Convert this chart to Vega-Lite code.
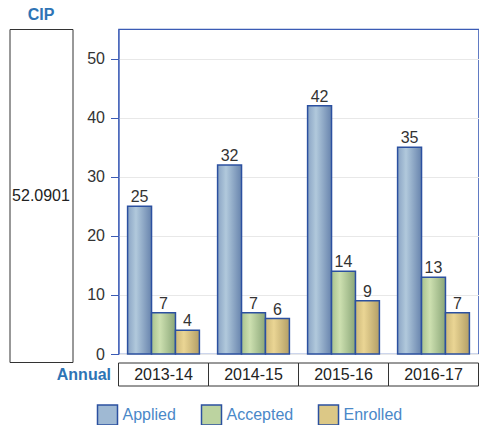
{
  "$schema": "https://vega.github.io/schema/vega-lite/v6.json",
  "padding": {"left": 8.5, "top": 6, "right": 0, "bottom": 0},
  "background": "white",
  "config": {"font": "Liberation Sans", "view": {"stroke": null}},
  "bounds": "flush",
  "spacing": 46,
  "hconcat": [
    {
      "width": 63,
      "height": 333,
      "title": {"text": "CIP", "font": "Liberation Sans", "fontSize": 16, "fontWeight": "bold", "color": "#2e74b5", "anchor": "middle", "offset": 6},
      "view": {"stroke": "#333333", "strokeWidth": 1},
      "data": {"values": [{"cip": "52.0901"}]},
      "mark": {"type": "text", "fontSize": 16, "color": "#222222"},
      "encoding": {
        "y": {"field": "cip", "type": "nominal", "axis": null},
        "text": {"field": "cip"}
      }
    },
    {
      "bounds": "flush",
      "spacing": 9,
      "vconcat": [
        {
          "width": 360,
          "height": 325,
          "view": {"stroke": "#3b5bb5", "strokeWidth": 1.2},
          "data": {"values": [
            {"year": "2013-14", "series": "Applied", "value": 25},
            {"year": "2013-14", "series": "Accepted", "value": 7},
            {"year": "2013-14", "series": "Enrolled", "value": 4},
            {"year": "2014-15", "series": "Applied", "value": 32},
            {"year": "2014-15", "series": "Accepted", "value": 7},
            {"year": "2014-15", "series": "Enrolled", "value": 6},
            {"year": "2015-16", "series": "Applied", "value": 42},
            {"year": "2015-16", "series": "Accepted", "value": 14},
            {"year": "2015-16", "series": "Enrolled", "value": 9},
            {"year": "2016-17", "series": "Applied", "value": 35},
            {"year": "2016-17", "series": "Accepted", "value": 13},
            {"year": "2016-17", "series": "Enrolled", "value": 7}
          ]},
          "encoding": {
            "x": {"field": "year", "type": "nominal", "axis": null, "scale": {"paddingInner": 0, "paddingOuter": 0}},
            "xOffset": {"field": "series", "type": "nominal", "sort": ["Applied", "Accepted", "Enrolled"], "scale": {"paddingInner": 0, "paddingOuter": 0.38}},
            "y": {
              "field": "value",
              "type": "quantitative",
              "scale": {"domain": [0, 55], "nice": false},
              "axis": {
                "title": null,
                "values": [0, 10, 20, 30, 40, 50],
                "grid": true,
                "gridColor": "#e8e8e8",
                "domainColor": "#3b5bb5",
                "tickColor": "#3b5bb5",
                "tickSize": 8,
                "labelPadding": 6,
                "labelFont": "Liberation Sans",
                "labelFontSize": 16,
                "labelColor": "#333333"
              }
            }
          },
          "layer": [
            {
              "mark": {"type": "bar", "stroke": "#2b50a0", "strokeWidth": 1.5},
              "encoding": {
                "color": {
                  "condition": [
                    {"test": "datum.series === 'Applied'", "value": {"gradient": "linear", "x1": 0, "y1": 0, "x2": 1, "y2": 0, "stops": [{"offset": 0, "color": "#8aa4c4"}, {"offset": 0.35, "color": "#b1c9dc"}, {"offset": 1, "color": "#6884ad"}]}},
                    {"test": "datum.series === 'Accepted'", "value": {"gradient": "linear", "x1": 0, "y1": 0, "x2": 1, "y2": 0, "stops": [{"offset": 0, "color": "#a8c28e"}, {"offset": 0.35, "color": "#cde0b0"}, {"offset": 1, "color": "#8aa678"}]}},
                    {"test": "datum.series === 'Enrolled'", "value": {"gradient": "linear", "x1": 0, "y1": 0, "x2": 1, "y2": 0, "stops": [{"offset": 0, "color": "#cdb97a"}, {"offset": 0.35, "color": "#ead594"}, {"offset": 1, "color": "#b39f66"}]}}
                  ],
                  "field": "series",
                  "type": "nominal",
                  "sort": ["Applied", "Accepted", "Enrolled"],
                  "scale": {"domain": ["Applied", "Accepted", "Enrolled"], "range": ["#9fb9d3", "#bcd3a0", "#dcc886"]},
                  "legend": {
                    "title": null,
                    "orient": "none",
                    "legendX": 87,
                    "legendY": 375,
                    "direction": "horizontal",
                    "symbolType": "square",
                    "symbolSize": 400,
                    "symbolStrokeColor": "#2b50a0",
                    "symbolStrokeWidth": 1.5,
                    "labelFont": "Liberation Sans",
                    "labelFontSize": 16,
                    "labelColor": "#4a88c8",
                    "labelOffset": 4,
                    "columnPadding": 22,
                    "padding": 0,
                    "encode": {
                      "symbols": {
                        "update": {
                          "fill": {
                            "condition": [
                              {"test": "datum.value === 'Applied'", "value": {"gradient": "linear", "x1": 0, "y1": 0, "x2": 1, "y2": 0, "stops": [{"offset": 0, "color": "#8aa4c4"}, {"offset": 0.35, "color": "#b1c9dc"}, {"offset": 1, "color": "#6884ad"}]}},
                              {"test": "datum.value === 'Accepted'", "value": {"gradient": "linear", "x1": 0, "y1": 0, "x2": 1, "y2": 0, "stops": [{"offset": 0, "color": "#a8c28e"}, {"offset": 0.35, "color": "#cde0b0"}, {"offset": 1, "color": "#8aa678"}]}}
                            ],
                            "value": {"gradient": "linear", "x1": 0, "y1": 0, "x2": 1, "y2": 0, "stops": [{"offset": 0, "color": "#cdb97a"}, {"offset": 0.35, "color": "#ead594"}, {"offset": 1, "color": "#b39f66"}]}
                          },
                          "stroke": {"value": "#2b50a0"},
                          "strokeWidth": {"value": 1.5}
                        }
                      }
                    }
                  }
                }
              }
            },
            {
              "mark": {"type": "text", "baseline": "bottom", "dy": -1, "fontSize": 16, "color": "#333333"},
              "encoding": {"text": {"field": "value"}}
            }
          ]
        },
        {
          "width": 360,
          "height": 23,
          "data": {"values": [
            {"year": "2013-14", "row": "Annual"},
            {"year": "2014-15", "row": "Annual"},
            {"year": "2015-16", "row": "Annual"},
            {"year": "2016-17", "row": "Annual"}
          ]},
          "encoding": {
            "x": {"field": "year", "type": "nominal", "axis": null, "scale": {"paddingInner": 0, "paddingOuter": 0}},
            "y": {
              "field": "row",
              "type": "nominal",
              "scale": {"paddingInner": 0, "paddingOuter": 0},
              "axis": {"title": null, "domain": false, "ticks": false, "labelPadding": 8, "labelFont": "Liberation Sans", "labelFontSize": 16, "labelFontWeight": "bold", "labelColor": "#2e74b5"}
            }
          },
          "layer": [
            {"mark": {"type": "rect", "fill": "white", "stroke": "#333333", "strokeWidth": 1}},
            {"mark": {"type": "text", "fontSize": 16, "color": "#222222"}, "encoding": {"text": {"field": "year"}}}
          ]
        }
      ]
    }
  ]
}
